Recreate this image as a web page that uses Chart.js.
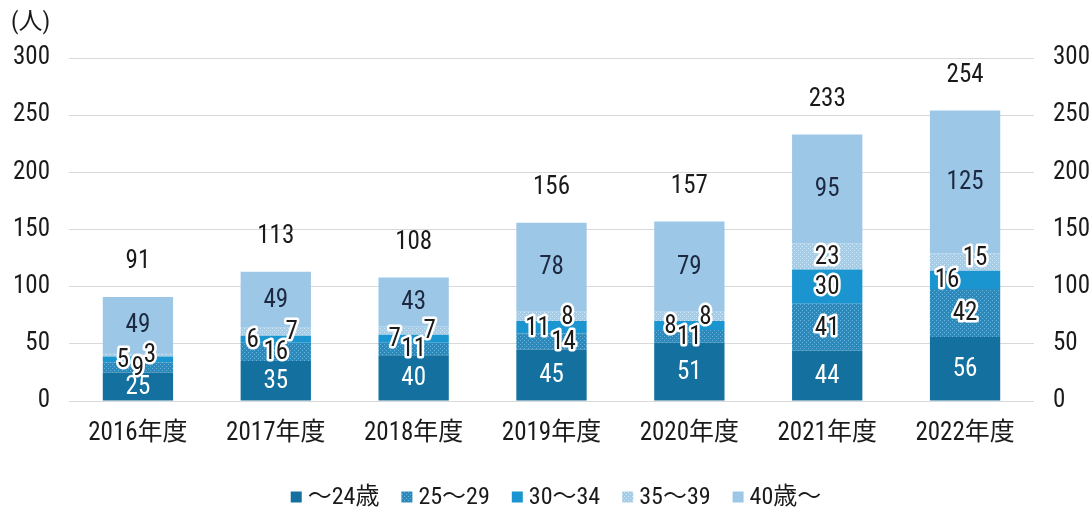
<!DOCTYPE html>
<html>
<head>
<meta charset="utf-8">
<script src="https://cdn.jsdelivr.net/npm/chart.js@4/dist/chart.umd.min.js"></script>
<style>
  html, body { margin: 0; padding: 0; background: #ffffff; }
  #wrap { width: 1092px; height: 510px; }
</style>
</head>
<body>
<div id="wrap"><canvas id="c" width="1092" height="510"></canvas></div>
<script>
// ---- data ----
const categories = ['2016年度', '2017年度', '2018年度', '2019年度', '2020年度', '2021年度', '2022年度'];
const seriesNames = ['～24歳', '25～29', '30～34', '35～39', '40歳～'];
const age24 = [25, 35, 40, 45, 51, 44, 56];
const age25to29 = [9, 16, 11, 14, 11, 41, 42];
const age30to34 = [5, 6, 7, 11, 8, 30, 16];
const age35to39 = [3, 7, 7, 8, 8, 23, 15];
const age40 = [49, 49, 43, 78, 79, 95, 125];
const totals = [91, 113, 108, 156, 157, 233, 254];
const yTickValues = [0, 50, 100, 150, 200, 250, 300];
const unitLabel = '(人)';

// ---- styling (kept apart from data) ----
const FONT = '"Roboto Condensed", "Noto Sans CJK JP", sans-serif';
const labelShiftX = [
  [0, 0, 0, 0, 0, 0, 0],
  [0, 0, 0, 12, 0, 0, 0],
  [-15, -23, -19, -14, -19, 0, -18],
  [12, 16, 16, 16, 16, 0, 10],
  [0, 0, 0, 0, 0, 0, 0]
];
const labelShiftY = [
  [0, 0, 0, 0, 0, 0, 0],
  [0, 0, 0, 0, 0, 0, 0],
  [0, 0, 0, 0, 0, 0, 0],
  [0, 0, 0, 0, 0, 0, -4],
  [0, 0, 0, 0, 0, 0, 0]
];

function makePattern(base, dot) {
  const c = document.createElement('canvas');
  c.width = 4; c.height = 4;
  const g = c.getContext('2d');
  g.fillStyle = base; g.fillRect(0, 0, 4, 4);
  g.fillStyle = dot;
  g.fillRect(0, 0, 1, 1); g.fillRect(2, 2, 1, 1);
  return g.createPattern(c, 'repeat');
}
const ctx = document.getElementById('c').getContext('2d');
const fills = [
  '#13709f',
  makePattern('#2b89bc', '#6ab3da'),
  '#1b95cf',
  makePattern('#a6cde8', '#d2e7f5'),
  '#9dc7e7'
];
const values = [age24, age25to29, age30to34, age35to39, age40];

const labelPlugin = {
  id: 'labels',
  afterDatasetsDraw(chart) {
    const g = chart.ctx;
    g.save();
    g.font = '25px ' + FONT;
    g.textAlign = 'center';
    g.textBaseline = 'middle';
    g.lineJoin = 'round';
    chart.data.datasets.forEach((ds, i) => {
      const meta = chart.getDatasetMeta(i);
      meta.data.forEach((el, j) => {
        const x = el.x + labelShiftX[i][j];
        const y = (el.y + el.base) / 2 + labelShiftY[i][j] + 1;
        const t = String(ds.data[j]);
        if (i === 0) {
          g.fillStyle = '#ffffff';
          g.fillText(t, x, y);
        } else if (i === 4) {
          g.fillStyle = '#1c2940';
          g.fillText(t, x, y);
        } else {
          g.strokeStyle = '#ffffff';
          g.lineWidth = 5;
          g.strokeText(t, x, y);
          g.fillStyle = '#1a1a1a';
          g.fillText(t, x, y);
        }
      });
    });
    // totals
    const top = chart.getDatasetMeta(4);
    top.data.forEach((el, j) => {
      g.fillStyle = '#1a1a1a';
      g.fillText(String(totals[j]), el.x, el.y - 35);
    });
    // unit
    g.textAlign = 'left';
    g.fillStyle = '#1a1a1a';
    g.font = '24px ' + FONT;
    g.fillText(unitLabel, 11, 23);
    // legend
    g.font = '24px ' + FONT;
    const box = 11, gapBox = 6, gapItem = 22;
    const widths = seriesNames.map(n => box + gapBox + g.measureText(n).width);
    const total = widths.reduce((a, b) => a + b, 0) + gapItem * (widths.length - 1);
    let lx = 556 - total / 2;
    const ly = 497;
    seriesNames.forEach((n, i) => {
      g.fillStyle = fills[i];
      g.fillRect(lx, ly - box / 2, box, box);
      g.fillStyle = '#1a1a1a';
      g.fillText(n, lx + box + gapBox, ly + 1);
      lx += widths[i] + gapItem;
    });
    g.restore();
  }
};

new Chart(ctx, {
  type: 'bar',
  data: {
    labels: categories,
    datasets: values.map((v, i) => ({
      label: seriesNames[i],
      data: v,
      backgroundColor: fills[i],
      borderWidth: 0,
      stack: 's',
      categoryPercentage: 1,
      barPercentage: 0.51
    }))
  },
  options: {
    responsive: false,
    animation: false,
    devicePixelRatio: 1,
    layout: { padding: { top: 58, bottom: 0, left: 0, right: 0 } },
    plugins: { legend: { display: false }, tooltip: { enabled: false } },
    scales: {
      x: {
        stacked: true,
        grid: { display: false, drawTicks: false },
        border: { display: false },
        ticks: { color: '#1a1a1a', font: { family: FONT, size: 25 }, padding: 18 },
        afterFit(s) { s.height = 109; }
      },
      y: {
        stacked: true,
        min: 0, max: 300,
        position: 'left',
        afterBuildTicks(s) { s.ticks = yTickValues.map(v => ({ value: v })); },
        grid: { color: '#d9d9d9', lineWidth: 1, drawTicks: false },
        border: { display: false },
        ticks: { color: '#1a1a1a', font: { family: FONT, size: 25 }, padding: 19 },
        afterFit(s) { s.width = 69; }
      },
      y2: {
        min: 0, max: 300,
        position: 'right',
        afterBuildTicks(s) { s.ticks = yTickValues.map(v => ({ value: v })); },
        grid: { display: false, drawTicks: false },
        border: { display: false },
        ticks: { color: '#1a1a1a', font: { family: FONT, size: 25 }, padding: 19 },
        afterFit(s) { s.width = 58; }
      }
    }
  },
  plugins: [labelPlugin]
});
</script>
</body>
</html>
